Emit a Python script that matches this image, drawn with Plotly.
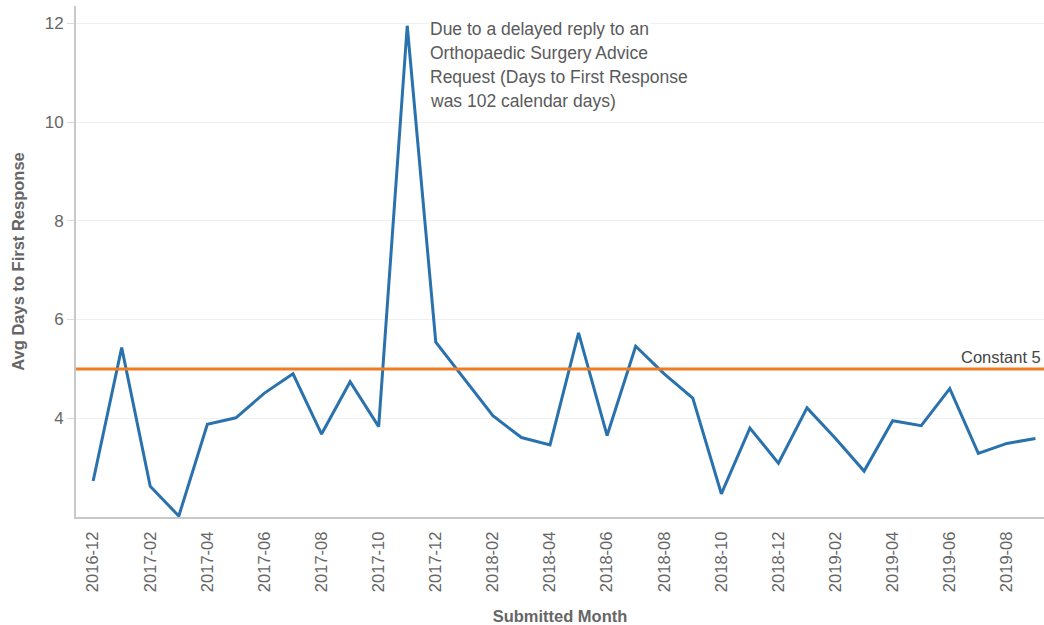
import plotly.graph_objects as go

months = [
    "2016-12", "2017-01", "2017-02", "2017-03", "2017-04", "2017-05", "2017-06",
    "2017-07", "2017-08", "2017-09", "2017-10", "2017-11", "2017-12", "2018-01",
    "2018-02", "2018-03", "2018-04", "2018-05", "2018-06", "2018-07", "2018-08",
    "2018-09", "2018-10", "2018-11", "2018-12", "2019-01", "2019-02", "2019-03",
    "2019-04", "2019-05", "2019-06", "2019-07", "2019-08", "2019-09",
]
avg_days = [
    2.73, 5.43, 2.62, 2.02, 3.88, 4.01, 4.51, 4.90, 3.68, 4.74, 3.83, 11.95,
    5.54, 4.80, 4.05, 3.61, 3.46, 5.73, 3.65, 5.46, 4.90, 4.41, 2.47, 3.80,
    3.09, 4.21, 3.59, 2.93, 3.95, 3.85, 4.60, 3.29, 3.49, 3.59,
]
constant_value = 5
tick_months = months[::2]
y_ticks = [4, 6, 8, 10, 12]

note_lines = [
    "Due to a delayed reply to an",
    "Orthopaedic Surgery Advice",
    "Request (Days to First Response",
    "was 102 calendar days)",
]

fig = go.Figure()
fig.add_trace(go.Scatter(
    x=months, y=avg_days, mode="lines",
    line=dict(color="#2a72ad", width=3),
    showlegend=False,
))
fig.add_hline(y=constant_value, line=dict(color="#f07c22", width=3))

fig.add_annotation(
    x=1.0, xref="paper", y=constant_value, yref="y",
    text="Constant 5", showarrow=False,
    xanchor="right", yanchor="bottom", yshift=1, xshift=-1,
    font=dict(size=16.5, color="#444444"),
)

# multi-line note next to the peak, one annotation per line for even spacing
for i, line_text in enumerate(note_lines):
    fig.add_annotation(
        x=months[11], y=12.0, xref="x", yref="y",
        text=line_text, showarrow=False, align="left",
        xanchor="left", yanchor="middle",
        xshift=21, yshift=-6 - 24 * i,
        bgcolor="white",
        font=dict(size=17.5, color="#5a5a5a"),
    )

fig.update_layout(
    width=1044, height=625,
    margin=dict(l=76, r=0, t=6, b=108),
    paper_bgcolor="white", plot_bgcolor="white",
    font=dict(family="Liberation Sans, Arial, sans-serif", color="#666666"),
)
fig.update_xaxes(
    type="category",
    range=[-0.6, 33.3],
    tickmode="array", tickvals=tick_months, ticktext=tick_months,
    tickangle=-90, tickfont=dict(size=16.5, color="#666666"),
    ticklabelstandoff=6,
    showgrid=False, showline=True, linecolor="#c8c8c8", linewidth=2,
    ticks="",
    title=dict(text="<b>Submitted Month</b>", font=dict(size=16.5, color="#666666"),
               standoff=20),
)
fig.update_yaxes(
    range=[2, 12.35],
    tickmode="array", tickvals=y_ticks,
    tickfont=dict(size=17, color="#666666"),
    showgrid=True, gridcolor="#f0f0f0", gridwidth=1,
    showline=True, linecolor="#c8c8c8", linewidth=2,
    ticks="outside", ticklen=7, tickcolor="#dddddd",
    zeroline=False,
    title=dict(text="<b>Avg Days to First Response</b>",
               font=dict(size=16.5, color="#666666"), standoff=16),
)

fig.write_html("out.html")
